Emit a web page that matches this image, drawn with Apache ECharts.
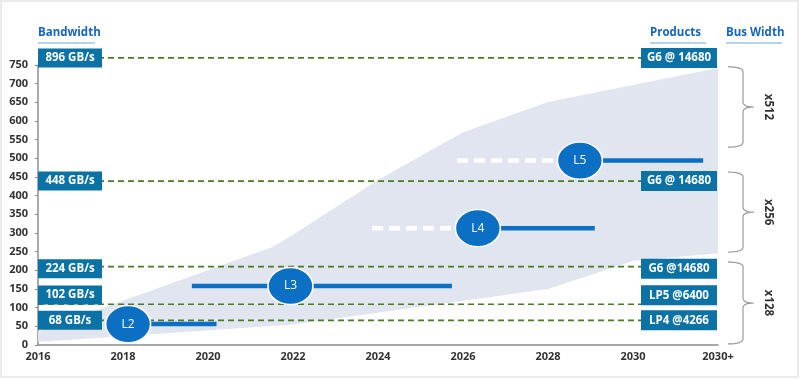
<!DOCTYPE html>
<html><head><meta charset="utf-8">
<script src="https://cdn.jsdelivr.net/npm/echarts@6/dist/echarts.min.js"></script>
<style>html,body{margin:0;padding:0;background:#fff}#c{width:800px;height:380px}</style>
</head><body><div id="c"></div>
<script>
// ---- data ----
const xTickLabels = ['2016','2018','2020','2022','2024','2026','2028','2030','2030+'];
const bandwidthLabels = ['896 GB/s','448 GB/s','224 GB/s','102 GB/s','68 GB/s'];
const bandwidthLineValues = [769, 439, 210, 109, 66];
const bandwidthBoxValues = [769, 439, 204, 134, 66];
const productLabels = ['G6 @ 14680','G6 @ 14680','G6 @14680','LP5 @6400','LP4 @4266'];
const productBoxValues = [769, 439, 204, 133, 66];
const genNames = ['L2','L3','L4','L5'];
const genValues = [56, 158, 313, 494];
const genCircleYears = [2018.12, 2021.94, 2026.35, 2028.75];
const genSolidStart = [2018.12, 2019.62, 2026.35, 2028.75];
const genSolidEnd = [2020.2, 2025.74, 2029.1, 2031.65];
const genPlannedStart = [null, null, 2023.86, 2025.86];
const areaUpper = [[2016,37],[2021.5,262],[2022,295],[2024,442],[2026,570],[2028,651],[2032,742]];
const areaLower = [[2016,8],[2022,55],[2028,150],[2030,225],[2032,246]];
const busWidthLabels = ['x512','x256','x128'];
const busWidthFrom = [745, 463, 222];
const busWidthTo = [530, 249, 3];

const X_MIN = 2016, X_MAX = 2032;
const FONT = '"Open Sans", "Noto Sans", sans-serif';
const BOX = '#0b72a6', GEN = '#0b6fc3', GREEN = '#4a7d22';

const chart = echarts.init(document.getElementById('c'), null, {renderer:'canvas'});

const series = [];
// shaded band
series.push({
  type:'custom', z:1, silent:true, clip:false,
  data:[[X_MIN,0]], encode:{x:0,y:1},
  renderItem:function(params, api){
    const pts = areaUpper.map(p=>api.coord(p)).concat(areaLower.slice().reverse().map(p=>api.coord(p)));
    return {type:'polygon', shape:{points:pts}, style:{fill:'#e1e5f0'}};
  }
});
// green dashed reference lines
bandwidthLineValues.forEach(v=>{
  series.push({type:'line', z:2, symbol:'none', silent:true, clip:false,
    data:[[X_MIN, v],[2030.4, v]],
    lineStyle:{color:GREEN, width:1.6, type:[6,4]}});
});
// generation lines
genNames.forEach((n,i)=>{
  if (genPlannedStart[i] !== null) {
    series.push({type:'line', z:3, symbol:'none', silent:true,
      data:[[genPlannedStart[i], genValues[i]],[genCircleYears[i], genValues[i]]],
      lineStyle:{color:'#ffffff', width:4.5, type:[11,6]}});
  }
  series.push({type:'line', z:3, symbol:'none', silent:true,
    data:[[genSolidStart[i], genValues[i]],[genSolidEnd[i], genValues[i]]],
    lineStyle:{color:GEN, width:4.5}});
});
// generation circles
series.push({type:'scatter', z:4, symbol:'circle', symbolSize:[45,37], clip:false,
  itemStyle:{color:GEN, borderColor:'#ffffff', borderWidth:1.5, opacity:1},
  label:{show:true, position:'inside', formatter:p=>p.name, color:'#fff', fontSize:12, fontFamily:FONT},
  data:genNames.map((n,i)=>({name:n, value:[genCircleYears[i], genValues[i]]}))
});
// bandwidth boxes (left)
series.push({type:'scatter', z:5, symbol:'rect', symbolSize:[64,19], symbolOffset:[32,0], clip:false,
  itemStyle:{color:BOX, opacity:1},
  label:{show:true, position:'inside', formatter:p=>p.name, color:'#fff', fontSize:11.5, fontWeight:'bold', fontFamily:FONT},
  data:bandwidthLabels.map((n,i)=>({name:n, value:[X_MIN, bandwidthBoxValues[i]]}))
});
// product boxes (right)
series.push({type:'scatter', z:5, symbol:'rect', symbolSize:[76,20], symbolOffset:[-39,0], clip:false,
  itemStyle:{color:BOX, opacity:1},
  label:{show:true, position:'inside', formatter:p=>p.name, color:'#fff', fontSize:11.5, fontWeight:'bold', fontFamily:FONT},
  data:productLabels.map((n,i)=>({name:n, value:[X_MAX, productBoxValues[i]]}))
});

const option = {
  animation:false,
  backgroundColor:'#ffffff',
  grid:{left:38, right:82, top:65, bottom:35, containLabel:false},
  xAxis:{type:'value', min:X_MIN, max:X_MAX, interval:2,
    axisLine:{show:true, lineStyle:{color:'#8c8c8c', width:1.5}},
    axisTick:{show:false}, splitLine:{show:false},
    axisLabel:{margin:6, color:'#333', fontSize:11, fontWeight:'bold', fontFamily:FONT, showMaxLabel:true, showMinLabel:true,
      formatter:v=>xTickLabels[Math.round((v-X_MIN)/2)] || ''}},
  yAxis:{type:'value', min:0, max:750, interval:50,
    axisLine:{show:true, lineStyle:{color:'#8c8c8c', width:1.5}},
    axisTick:{show:true, length:3, lineStyle:{color:'#8c8c8c'}}, splitLine:{show:false},
    axisLabel:{margin:10, color:'#333', fontSize:11, fontWeight:'bold', fontFamily:FONT}},
  series:series
};
chart.setOption(option);

// annotations
const graphic = [];
graphic.push({type:'rect', silent:true, shape:{x:1, y:1, width:797, height:376}, style:{fill:'none', stroke:'#ebebeb', lineWidth:2}});
const headers = [['Bandwidth',38,57],['Products',650,56],['Bus Width',726,56]];
headers.forEach(h=>{
  graphic.push({type:'text', x:h[1], y:33, style:{text:h[0], fill:'#1565c0', font:'bold 11.5px '+FONT, textVerticalAlign:'middle'}});
  graphic.push({type:'rect', shape:{x:h[1], y:42, width:h[2], height:2}, style:{fill:'#b5d4ea'}});
});
function quad(p0, c, p1, n){
  const out=[];
  for(let k=0;k<=n;k++){const t=k/n, a=(1-t)*(1-t), b=2*(1-t)*t, d=t*t;
    out.push([a*p0[0]+b*c[0]+d*p1[0], a*p0[1]+b*c[1]+d*p1[1]]);}
  return out;
}
busWidthLabels.forEach((lab,i)=>{
  const y1 = chart.convertToPixel({gridIndex:0}, [X_MIN, busWidthFrom[i]])[1];
  const y2 = chart.convertToPixel({gridIndex:0}, [X_MIN, busWidthTo[i]])[1];
  const ym = (y1+y2)/2, x0=728, x1=743, x2=754, r=5;
  let pts = [];
  pts = pts.concat(quad([x0,y1],[x1,y1],[x1,y1+r],8));
  pts = pts.concat(quad([x1,ym-r],[x1,ym],[x2,ym],8));
  pts = pts.concat(quad([x2,ym],[x1,ym],[x1,ym+r],8));
  pts = pts.concat(quad([x1,y2-r],[x1,y2],[x0,y2],8));
  graphic.push({type:'polyline', shape:{points:pts}, style:{fill:'none', stroke:'#9a9a9a', lineWidth:1.2}});
  graphic.push({type:'text', x:768, y:ym, rotation:-Math.PI/2, style:{text:lab, fill:'#333', font:'bold 11.5px '+FONT, textAlign:'center', textVerticalAlign:'middle'}});
});
chart.setOption({graphic:graphic});
</script></body></html>
